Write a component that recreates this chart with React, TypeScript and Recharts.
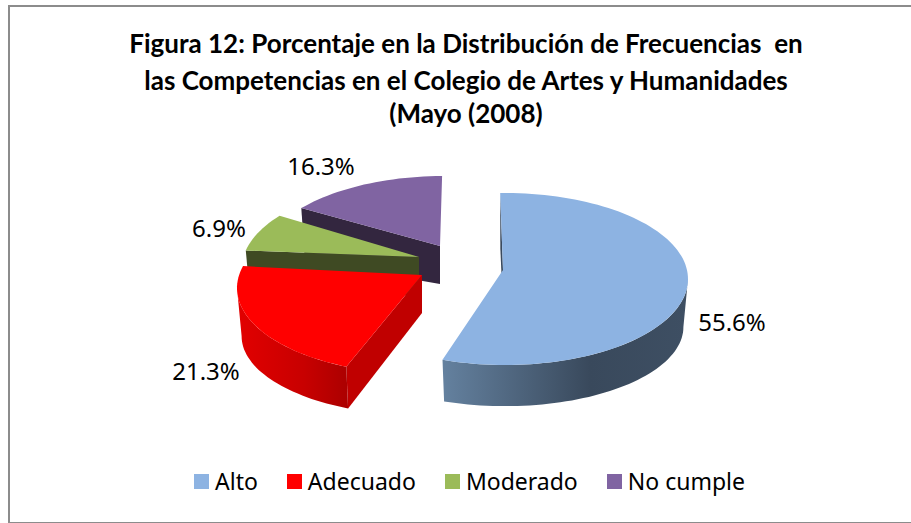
import React from 'react';
import { PieChart, Pie, Legend } from 'recharts';

const categories = ['Alto', 'Adecuado', 'Moderado', 'No cumple'];
const percentages = [55.6, 21.3, 6.9, 16.3];
const titleLines = [
  'Figura 12: Porcentaje en la Distribución de Frecuencias  en',
  'las Competencias en el Colegio de Artes y Humanidades',
  '(Mayo (2008)',
];

const TOP_COLORS = ['#8db3e2', '#ff0000', '#9bbb59', '#8064a2'];
const RIM_COLORS = [
  ['#64819f', '#39495c', '#3e4f63'],
  ['#e20000', '#c80000', '#ab0000'],
  ['#3f4a23', '#3f4a23', '#3f4a23'],
  ['#33263f', '#33263f', '#33263f'],
];
const EDGE_COLORS = ['#3a4a5e', '#c00000', '#3f4a23', '#33263f'];

const PIE_CX = 430;
const PIE_CY = 275;
const RADIUS = 183;
const SQUASH = 0.47;
const DEPTH = 48;
const APEX_DEPTH = 38;

// 3D view of each slice: explode offset, apex offset, small perspective angle shifts, label centre
const VIEWS = [
  { dx: 75, dy: 4, ax: -2, ay: -9, from: -1.5, to: 0, lx: 732, ly: 321.5 },
  { dx: -10, dy: 13, ax: 2, ay: -13, from: 3.8, to: 8.2, lx: 206, ly: 370.5 },
  { dx: -5, dy: -7, ax: -6, ay: -11, from: 5.2, to: 6, lx: 219, ly: 227 },
  { dx: 14, dy: -13, ax: -4, ay: -16, from: 7.4, to: -0.6, lx: 321, ly: 165 },
];

// painted back to front, so the table runs counter-clockwise from No cumple
const pieData = categories
  .map((name, i) => ({ name, value: percentages[i], fill: TOP_COLORS[i], idx: i }))
  .reverse();

const pt = (cx: number, cy: number, rx: number, ry: number, clock: number) => {
  const r = (clock * Math.PI) / 180;
  return [cx + rx * Math.sin(r), cy - ry * Math.cos(r)];
};

const arc = (cx: number, cy: number, rx: number, ry: number, a: number, b: number) => {
  const out: number[][] = [];
  const n = Math.max(2, Math.ceil(Math.abs(b - a) / 2));
  for (let i = 0; i <= n; i++) out.push(pt(cx, cy, rx, ry, a + ((b - a) * i) / n));
  return out;
};

const toPath = (pts: number[][]) =>
  'M' + pts.map((p) => `${p[0].toFixed(1)},${p[1].toFixed(1)}`).join('L') + 'Z';

const Slice3D = (props: any) => {
  const { cx, cy, outerRadius, startAngle, endAngle, fill, payload } = props;
  const i = payload.idx;
  const v = VIEWS[i];
  const span = Math.abs(endAngle - startAngle);
  const raw = ((90 - Math.max(startAngle, endAngle)) % 360 + 360) % 360;
  const c1 = raw + v.from;
  const c2 = raw + span + v.to;
  const x = cx + v.dx;
  const y = cy + v.dy;
  const rx = outerRadius;
  const ry = outerRadius * SQUASH;
  const lowRx = rx * 0.975;
  const lowRy = ry * 0.92;
  const apex = [x + v.ax, y + v.ay];
  const apexLow = [apex[0], apex[1] + APEX_DEPTH];

  const rimFrom = Math.max(c1, 90);
  const rimTo = Math.min(c2, 270);
  const hasRim = rimTo > rimFrom;

  const edge = [
    pt(x, y, rx, ry, c1),
    apex,
    apexLow,
    pt(x, y + DEPTH, lowRx, lowRy, c1),
  ];

  return (
    <g>
      <path d={toPath(edge)} fill={EDGE_COLORS[i]} stroke="none" />
      {hasRim && (
        <path
          d={toPath([
            ...arc(x, y, rx, ry, rimFrom, rimTo),
            ...arc(x, y + DEPTH, lowRx, lowRy, rimTo, rimFrom),
          ])}
          fill={`url(#rim-${i})`}
          stroke="none"
        />
      )}
      <path d={toPath([apex, ...arc(x, y, rx, ry, c1, c2)])} fill={fill} stroke="none" />
    </g>
  );
};

const renderLabel = (props: any) => {
  const v = VIEWS[props.payload.idx];
  return (
    <text
      x={v.lx}
      y={v.ly}
      textAnchor="middle"
      dominantBaseline="central"
      fontFamily="'Noto Sans', sans-serif"
      fontSize={24}
      fill="#000"
    >
      {props.value.toFixed(1)}%
    </text>
  );
};

const renderLegend = (props: any) => {
  const items = [...(props.payload || [])].sort(
    (a: any, b: any) => categories.indexOf(a.value) - categories.indexOf(b.value),
  );
  return (
    <div style={{ display: 'flex', justifyContent: 'center', gap: 29, fontFamily: "'Noto Sans', sans-serif", fontSize: 23, color: '#000', lineHeight: '30px' }}>
      {items.map((it: any) => (
        <div key={it.value} style={{ display: 'flex', alignItems: 'center' }}>
          <span style={{ width: 15, height: 15, background: it.color, marginRight: 6, display: 'inline-block' }} />
          <span>{it.value}</span>
        </div>
      ))}
    </div>
  );
};

export default function App() {
  return (
    <div style={{ position: 'absolute', left: 0, top: 0, width: 911, height: 523, background: '#fff', overflow: 'hidden' }}>
      <div style={{ position: 'absolute', left: 8, top: 5, width: 910, height: 515, border: '2px solid #8c8c8c', boxSizing: 'content-box' }} />
      <div style={{ position: 'absolute', left: 0, top: 0 }}>
        <PieChart width={911} height={523} margin={{ top: 0, right: 0, bottom: 0, left: 0 }}>
          <defs>
            {RIM_COLORS.map((c, i) => (
              <linearGradient key={i} id={`rim-${i}`} x1="0" y1="0" x2="1" y2="0">
                <stop offset="0" stopColor={c[0]} />
                <stop offset="0.6" stopColor={c[1]} />
                <stop offset="1" stopColor={c[2]} />
              </linearGradient>
            ))}
          </defs>
          {titleLines.map((line, i) => (
            <text
              key={i}
              x={466}
              y={[53, 90, 123][i]}
              textAnchor="middle"
              fontFamily="Lato, sans-serif"
              fontWeight={700}
              fontSize={26}
              fill="#000"
              style={{ whiteSpace: 'pre' }}
            >
              {line}
            </text>
          ))}
          <Pie
            data={pieData}
            dataKey="value"
            nameKey="name"
            cx={PIE_CX}
            cy={PIE_CY}
            outerRadius={RADIUS}
            startAngle={90}
            endAngle={450}
            stroke="none"
            shape={Slice3D}
            label={renderLabel}
            labelLine={false}
            isAnimationActive={false}
          />
          <Legend
            content={renderLegend}
            verticalAlign="bottom"
            wrapperStyle={{ top: 466, bottom: 'auto', left: 14, width: 911 }}
          />
        </PieChart>
      </div>
    </div>
  );
}
